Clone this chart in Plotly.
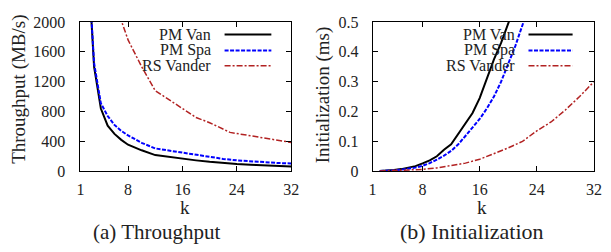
import plotly.graph_objects as go

W, H = 611, 252

# ---- Data: (a) Throughput (MB/s) vs k ----
k_tp = [2, 3, 4, 5, 6, 7, 8, 10, 12, 14, 16, 18, 20, 22, 24, 26, 28, 30, 32]
tp_pm_van = [3000, 1400, 840, 610, 500, 420, 355, 280, 216, 190, 165, 145, 125, 108, 95, 85, 76, 68, 62]
tp_pm_spa = [3000, 1450, 910, 740, 620, 540, 480, 380, 305, 275, 250, 215, 190, 165, 145, 130, 120, 110, 104]
k_tp_rs = [6, 7, 8, 10, 12, 14, 16, 18, 20, 22, 23, 24, 26, 28, 30, 32]
tp_rs_vander = [2400, 2020, 1760, 1400, 1080, 958, 835, 720, 650, 570, 520, 505, 475, 445, 415, 385]

# ---- Data: (b) Initialization (ms) vs k ----
k_init_van = [2, 3, 4, 5, 6, 7, 8, 9, 10, 11, 12, 13, 14, 15, 16, 17, 18, 19, 20, 21]
init_pm_van = [0.001, 0.002, 0.004, 0.007, 0.011, 0.017, 0.026, 0.036, 0.05, 0.072, 0.09,
               0.125, 0.158, 0.195, 0.245, 0.31, 0.375, 0.43, 0.49, 0.56]
k_init_spa = [2, 3, 4, 5, 6, 7, 8, 9, 10, 11, 12, 13, 14, 15, 16, 17, 18, 19, 20, 21, 22, 23]
init_pm_spa = [0.001, 0.0015, 0.003, 0.005, 0.008, 0.012, 0.018, 0.027, 0.039, 0.052, 0.068,
               0.09, 0.118, 0.145, 0.175, 0.21, 0.25, 0.3, 0.36, 0.42, 0.49, 0.56]
k_init_rs = [2, 4, 6, 8, 10, 12, 14, 16, 18, 20, 22, 24, 26, 28, 30, 32]
init_rs_vander = [0.0005, 0.0015, 0.003, 0.006, 0.011, 0.018, 0.027, 0.04, 0.058, 0.078,
                  0.1, 0.135, 0.165, 0.205, 0.25, 0.3]

series_names = ["PM Van", "PM Spa", "RS Vander"]
x_ticks = [1, 8, 16, 24, 32]
tp_ticks = [0, 400, 800, 1200, 1600, 2000]
init_ticks = [0, 0.1, 0.2, 0.3, 0.4, 0.5]
init_tick_text = ["0", "0.1", "0.2", "0.3", "0.4", "0.5"]

FONT = "Liberation Serif"
TXT = "#222222"
styles = [
    dict(color="black", width=2, dash="solid"),
    dict(color="#0000ff", width=2, dash="4px,1.5px"),
    dict(color="#b22222", width=1.5, dash="6px,2px,2px,2px"),
]

def px_x(p):
    return p / W

def px_y(p):
    return 1 - p / H

fig = go.Figure()

tp_data = [(k_tp, tp_pm_van), (k_tp, tp_pm_spa), (k_tp_rs, tp_rs_vander)]
init_data = [(k_init_van, init_pm_van), (k_init_spa, init_pm_spa), (k_init_rs, init_rs_vander)]

for (xs, ys), name, st in zip(tp_data, series_names, styles):
    fig.add_trace(go.Scatter(x=xs, y=ys, mode="lines", name=name, line=st,
                             xaxis="x", yaxis="y", showlegend=False, hoverinfo="skip"))
for (xs, ys), name, st in zip(init_data, series_names, styles):
    fig.add_trace(go.Scatter(x=xs, y=ys, mode="lines", name=name, line=st,
                             xaxis="x2", yaxis="y2", showlegend=False, hoverinfo="skip"))

top, bottom = 15, 175
ydom = [px_y(bottom), px_y(top)]

axis_common = dict(showline=True, linecolor="black", linewidth=1, mirror="ticks",
                   ticks="inside", ticklen=5, tickcolor="black", tickwidth=1,
                   showgrid=False, zeroline=False,
                   tickfont=dict(family=FONT, size=16, color=TXT))

fig.update_layout(
    width=W, height=H,
    margin=dict(l=0, r=0, t=0, b=0),
    paper_bgcolor="white", plot_bgcolor="white",
    font=dict(family=FONT, size=16, color=TXT),
    xaxis=dict(domain=[px_x(78), px_x(293)], range=[1, 32], tickvals=x_ticks,
               anchor="y", ticklabelstandoff=4, **axis_common),
    yaxis=dict(domain=ydom, range=[0, 2000], tickvals=tp_ticks, anchor="x",
               ticklabelstandoff=11, **axis_common),
    xaxis2=dict(domain=[px_x(376), px_x(601.7)], range=[1, 32], tickvals=x_ticks,
                anchor="y2", ticklabelstandoff=4, **axis_common),
    yaxis2=dict(domain=ydom, range=[0, 0.5], tickvals=init_ticks,
                ticktext=init_tick_text, anchor="x2", ticklabelstandoff=10, **axis_common),
)

annotations = []
shapes = []

def ann(text, x, y, size, xanchor="center", yanchor="middle", angle=0):
    annotations.append(dict(text=text, x=px_x(x), y=px_y(y), xref="paper", yref="paper",
                            showarrow=False, xanchor=xanchor, yanchor=yanchor,
                            textangle=angle, font=dict(family=FONT, size=size, color=TXT)))

# axis titles
ann("Throughput (MB/s)", 15, 87, 19, angle=-90)
ann("Initialization (ms)", 325, 93, 19, angle=-90)
ann("k", 185, 214, 19)
ann("k", 488, 214, 19)
# captions
ann("(a) Throughput", 156, 240, 21)
ann("(b) Initialization", 477, 240, 22)

# legends (gnuplot style: text then line sample)
rows = [28.3, 45.5, 62]
for (tx, l0, l1) in [(213, 225, 272.7), (523, 535, 580)]:
    for name, st, ry in zip(series_names, styles, rows):
        ann(name, tx, ry, 16, xanchor="right")
        shapes.append(dict(type="line", xref="paper", yref="paper",
                           x0=px_x(l0), x1=px_x(l1), y0=px_y(ry), y1=px_y(ry),
                           line=st))

fig.update_layout(annotations=annotations, shapes=shapes)

fig.write_html("out.html", config={"displayModeBar": False, "staticPlot": True},
               post_script="document.body.style.margin='0';document.body.style.overflow='hidden';")
